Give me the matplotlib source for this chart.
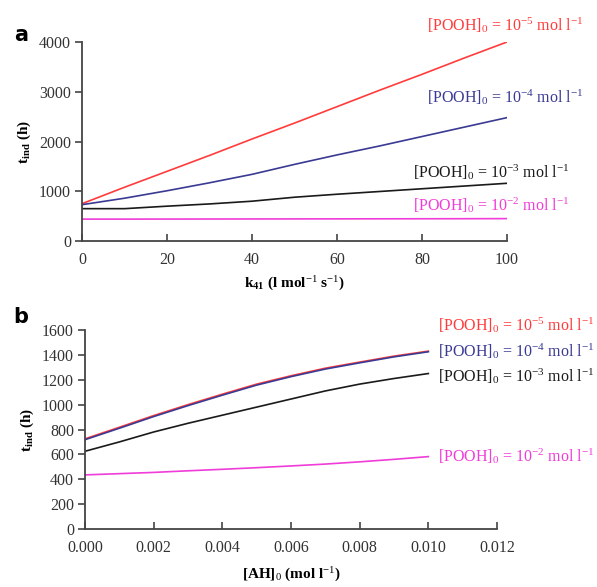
import matplotlib
matplotlib.use("Agg")
import matplotlib.pyplot as plt

# ---------------- data ----------------
k41 = [0, 10, 20, 30, 40, 50, 60, 70, 80, 90, 100]
a_pooh_1e5 = [750, 1080, 1400, 1720, 2050, 2370, 2700, 3030, 3350, 3680, 4000]
a_pooh_1e4 = [730, 860, 1010, 1170, 1340, 1540, 1730, 1910, 2100, 2290, 2480]
a_pooh_1e3 = [650, 650, 700, 745, 800, 880, 940, 995, 1050, 1105, 1160]
a_pooh_1e2 = [440, 440, 441, 442, 443, 444, 445, 446, 447, 448, 450]

ah0 = [0.000, 0.001, 0.002, 0.003, 0.004, 0.005, 0.006, 0.007, 0.008, 0.009, 0.010]
b_pooh_1e5 = [725, 818, 912, 1000, 1084, 1165, 1232, 1293, 1342, 1390, 1430]
b_pooh_1e4 = [718, 810, 904, 992, 1076, 1157, 1225, 1286, 1336, 1384, 1425]
b_pooh_1e3 = [625, 700, 780, 850, 915, 980, 1045, 1110, 1165, 1210, 1250]
b_pooh_1e2 = [435, 445, 455, 468, 480, 493, 507, 522, 540, 560, 582]

a_xticks = [0, 20, 40, 60, 80, 100]
a_yticks = [0, 1000, 2000, 3000, 4000]
b_xticks = [0.000, 0.002, 0.004, 0.006, 0.008, 0.010, 0.012]
b_yticks = [0, 200, 400, 600, 800, 1000, 1200, 1400, 1600]

labels = [r"[POOH]$_0$ = 10$^{-5}$ mol l$^{-1}$",
          r"[POOH]$_0$ = 10$^{-4}$ mol l$^{-1}$",
          r"[POOH]$_0$ = 10$^{-3}$ mol l$^{-1}$",
          r"[POOH]$_0$ = 10$^{-2}$ mol l$^{-1}$"]

# ---------------- style ----------------
plt.rcParams["font.family"] = ["Liberation Serif", "DejaVu Serif"]
plt.rcParams["mathtext.fontset"] = "custom"
plt.rcParams["mathtext.rm"] = "Liberation Serif"
plt.rcParams["mathtext.it"] = "Liberation Serif:italic"
plt.rcParams["mathtext.bf"] = "Liberation Serif:bold"

RED = "#ff3b3b"
BLUE = "#3a3a94"
BLACK = "#1a1a1a"
MAG = "#f03cd8"
colors = [RED, BLUE, BLACK, MAG]

W, H = 597, 587
fig = plt.figure(figsize=(W / 100, H / 100), dpi=100)


def px_axes(l, t, r, b):
    return fig.add_axes([l / W, 1 - b / H, (r - l) / W, (b - t) / H])


def style(ax):
    for s in ("top", "right"):
        ax.spines[s].set_visible(False)
    for s in ("left", "bottom"):
        ax.spines[s].set_color("#444444")
        ax.spines[s].set_linewidth(1.3)
    ax.tick_params(axis="x", direction="in", length=5, width=1.2,
                   color="#444444", labelsize=11.5, pad=8, labelcolor="#333333")
    ax.tick_params(axis="y", direction="out", length=5, width=1.2,
                   color="#444444", labelsize=11.5, pad=3, labelcolor="#333333")


# ---------------- panel a ----------------
axa = px_axes(82, 42, 507, 241)
for ys, c in zip([a_pooh_1e5, a_pooh_1e4, a_pooh_1e3, a_pooh_1e2], colors):
    axa.plot(k41, ys, color=c, lw=1.2)
axa.set_xlim(0, 100)
axa.set_ylim(0, 4000)
axa.set_xticks(a_xticks)
axa.set_yticks(a_yticks)
style(axa)
axa.set_ylabel(r"$\mathbf{t_{ind}}$ (h)", fontsize=11, fontweight="bold",
               labelpad=4)
axa.set_xlabel(r"$\mathbf{k_{41}}$ (l mol$^{-1}$ s$^{-1}$)", fontsize=11,
               fontweight="bold", labelpad=5)

a_label_pos = [(427, 25), (427, 97), (413, 172), (413, 205)]
for lab, c, (x, y) in zip(labels, colors, a_label_pos):
    fig.text(x / W, 1 - y / H, lab, color=c, fontsize=11.5, va="center",
             ha="left")

# ---------------- panel b ----------------
axb = px_axes(85, 330, 497, 529)
for ys, c in zip([b_pooh_1e5, b_pooh_1e4, b_pooh_1e3, b_pooh_1e2], colors):
    axb.plot(ah0, ys, color=c, lw=1.2)
axb.set_xlim(0, 0.012)
axb.set_ylim(0, 1600)
axb.set_xticks(b_xticks)
axb.set_xticklabels([f"{v:.3f}" for v in b_xticks])
axb.set_yticks(b_yticks)
style(axb)
axb.set_ylabel(r"$\mathbf{t_{ind}}$ (h)", fontsize=11, fontweight="bold",
               labelpad=4)
axb.set_xlabel(r"[AH]$_0$ (mol l$^{-1}$)", fontsize=11, fontweight="bold",
               labelpad=7)

b_label_pos = [(438, 325), (438, 351), (438, 376), (438, 456)]
for lab, c, (x, y) in zip(labels, colors, b_label_pos):
    fig.text(x / W, 1 - y / H, lab, color=c, fontsize=11.5, va="center",
             ha="left")

# panel letters
fig.text(21 / W, 1 - 35 / H, "a", fontsize=15, fontweight="bold",
         family="DejaVu Sans", ha="center", va="center")
fig.text(21 / W, 1 - 317 / H, "b", fontsize=15, fontweight="bold",
         family="DejaVu Sans", ha="center", va="center")

fig.savefig("out.png", dpi=100)
